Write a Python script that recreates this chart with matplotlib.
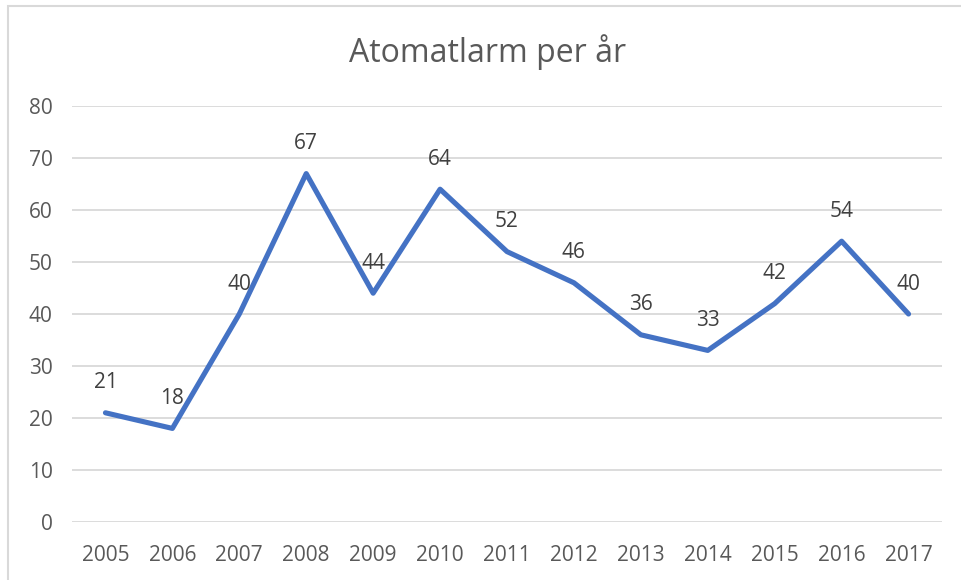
import matplotlib
matplotlib.use("Agg")
import matplotlib.pyplot as plt
from matplotlib.patches import Rectangle

# data
years = ["2005", "2006", "2007", "2008", "2009", "2010", "2011",
         "2012", "2013", "2014", "2015", "2016", "2017"]
alarms = [21, 18, 40, 67, 44, 64, 52, 46, 36, 33, 42, 54, 40]
yticks = [0, 10, 20, 30, 40, 50, 60, 70, 80]

plt.rcParams['font.family'] = ['Open Sans', 'DejaVu Sans']

W, H = 962, 580
fig = plt.figure(figsize=(W / 100, H / 100), dpi=100)
ax = fig.add_axes([72 / W, 1 - 522 / H, (942 - 72) / W, (522 - 106) / H])

# thin grey frame around the chart area (cut off at right/bottom)
fig.patches.append(Rectangle((8 / W, -0.05), 1.2, 1.05 - 6 / H,
                             transform=fig.transFigure, fill=False,
                             edgecolor="#d9d9d9", linewidth=1.5))

x = list(range(len(years)))
ax.plot(x, alarms, color="#4472C4", linewidth=3.7,
        solid_joinstyle="round", solid_capstyle="round", zorder=3)

for xi, v in zip(x, alarms):
    ax.annotate(str(v), (xi, v), xytext=(0, 21.5), textcoords="offset points",
                ha="center", va="center", fontsize=15, color="#404040")

ax.set_xlim(-0.5, len(years) - 0.5)
ax.set_ylim(0, 80)
ax.set_yticks(yticks)
ax.set_xticks(x)
ax.set_xticklabels(years)
ax.grid(axis="y", color="#d9d9d9", linewidth=1.3)
ax.set_axisbelow(True)
for s in ax.spines.values():
    s.set_visible(False)
ax.tick_params(axis="both", length=0, labelsize=15, colors="#595959")
ax.tick_params(axis="x", pad=16.5)
ax.tick_params(axis="y", pad=14)

fig.text(488 / W, 1 - 52 / H, "Atomatlarm per år", ha="center", va="center",
         fontsize=23, color="#595959")

fig.savefig("out.png", dpi=100)
